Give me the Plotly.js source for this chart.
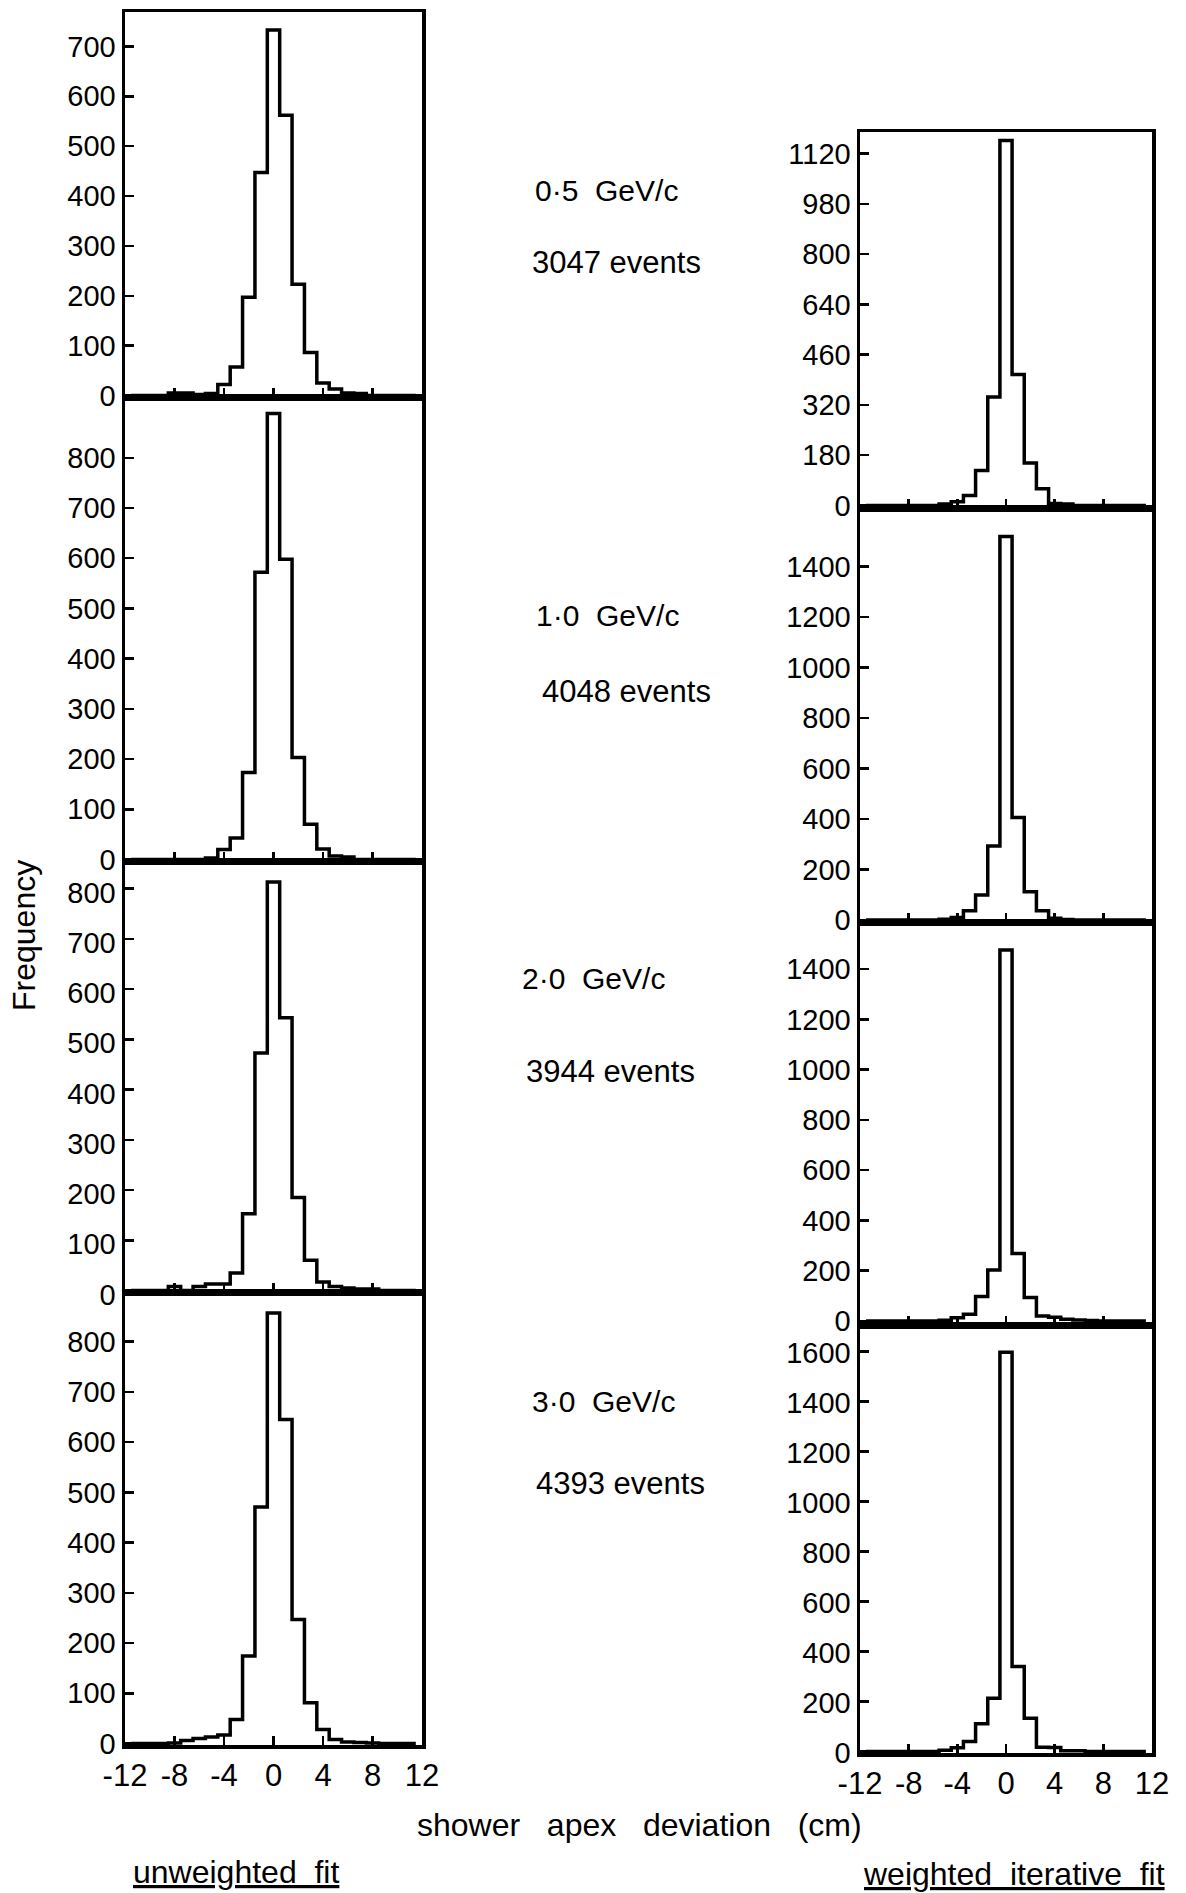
<!DOCTYPE html>
<html>
<head>
<meta charset="utf-8">
<script src="https://cdn.plot.ly/plotly-3.0.1.min.js"></script>
<style>html,body{margin:0;padding:0;background:#fff;}#chart{width:1186px;height:1893px;}</style>
</head>
<body>
<div id="chart"></div>
<script>
// ---- data ----
const binCenters = [-11,-10,-9,-8,-7,-6,-5,-4,-3,-2,-1,0,1,2,3,4,5,6,7,8,9,10,11];
const xTickVals = [-12,-8,-4,0,4,8,12];
const xTickLabels = ["-12","-8","-4","0","4","8","12"];

// unweighted fit (left column)
const unweighted05 = [0,0,0,5,5,2,4,22,57,197,447,733,562,223,86,25,13,5,4,0,0,0,0];
const unweighted10 = [0,0,0,0,0,0,3,20,43,173,572,888,598,203,70,21,7,5,0,0,0,0,0];
const unweighted20 = [0,0,0,8,0,8,13,13,35,153,473,813,543,185,60,17,8,5,3,3,0,0,0];
const unweighted30 = [0,0,0,1,6,10,13,17,48,174,471,857,645,247,81,28,8,3,2,1,0,0,0];

// weighted iterative fit (right column)
const weighted05 = [0,0,0,0,0,0,5,12,32,111,345,1162,417,135,53,6,5,0,0,0,0,0,0];
const weighted10 = [0,0,0,0,0,0,3,10,37,99,293,1519,406,112,37,7,2,0,0,0,0,0,0];
const weighted20 = [0,0,0,0,0,0,3,13,27,97,203,1477,269,93,20,15,7,4,2,0,0,0,0];
const weighted30 = [0,0,0,0,0,0,5,15,40,111,213,1597,340,133,17,16,3,3,0,0,0,0,0];

const momentumLabels = ["0·5  GeV/c","1·0  GeV/c","2·0  GeV/c","3·0  GeV/c"];
const eventLabels = ["3047 events","4048 events","3944 events","4393 events"];

const yTicksL1 = [0,100,200,300,400,500,600,700];
const yTicksL = [0,100,200,300,400,500,600,700,800];
const yTicksR1Vals = [0,160,320,480,640,800,960,1120];
const yTicksR1Text = ["0","180","320","460","640","800","980","1120"];
const yTicksR23 = [0,200,400,600,800,1000,1200,1400];
const yTicksR4 = [0,200,400,600,800,1000,1200,1400,1600];

// ---- layout helpers ----
const W = 1186, H = 1893;
const FONT = '"Liberation Sans", Arial, sans-serif';
function dxp(a,b){return [a/W, b/W];}
function dyp(top,bottom){return [1-bottom/H, 1-top/H];}
const NB = '\u00a0';
function sp(s){ return s.replace(/ /g, NB); }

function stepXY(counts){
  const x=[], y=[];
  binCenters.forEach((c,i)=>{ x.push(c-0.5); y.push(counts[i]); });
  x.push(binCenters[binCenters.length-1]+0.5);
  y.push(counts[counts.length-1]);
  return {x,y};
}

const panels = [
  {data: unweighted05, xd: [125,422], yd: [12,397],   yr: [-3,769],   tv: yTicksL1, tt: null, bottom:false, shift:0},
  {data: unweighted10, xd: [125,422], yd: [397,861],  yr: [-3,921],   tv: yTicksL,  tt: null, bottom:false, shift:0},
  {data: unweighted20, xd: [125,422], yd: [861,1292], yr: [-3,855],   tv: yTicksL,  tt: null, bottom:false, shift:4},
  {data: unweighted30, xd: [125,422], yd: [1292,1745],yr: [-3,899],   tv: yTicksL,  tt: null, bottom:true,  shift:0},
  {data: weighted05,   xd: [860,1152],yd: [132,508],  yr: [-8,1189],  tv: yTicksR1Vals, tt: yTicksR1Text, bottom:false, shift:0},
  {data: weighted10,   xd: [860,1152],yd: [508,922],  yr: [-8,1632],  tv: yTicksR23, tt: null, bottom:false, shift:0},
  {data: weighted20,   xd: [860,1152],yd: [922,1325], yr: [-16,1588], tv: yTicksR23, tt: null, bottom:false, shift:0},
  {data: weighted30,   xd: [860,1152],yd: [1325,1753],yr: [-6,1706],  tv: yTicksR4,  tt: null, bottom:true,  shift:1}
];

const traces = [];
const layout = {
  width: W, height: H,
  margin: {l:0,r:0,t:0,b:0},
  paper_bgcolor: '#ffffff', plot_bgcolor: '#ffffff',
  showlegend: false,
  font: {family: FONT, color: '#000', size: 30},
  annotations: []
};

panels.forEach((p,i)=>{
  const n = i+1;
  const xa = 'x' + (n===1?'':n), ya = 'y' + (n===1?'':n);
  const xk = 'xaxis' + (n===1?'':n), yk = 'yaxis' + (n===1?'':n);
  const s = stepXY(p.data);
  traces.push({type:'scatter', mode:'lines', x:s.x, y:s.y, xaxis:xa, yaxis:ya,
    line:{shape:'hv', color:'#000', width:3.5}, hoverinfo:'skip'});
  layout[xk] = {domain: dxp(p.xd[0],p.xd[1]), anchor: ya, range:[-12,12],
    tickvals: xTickVals, ticktext: xTickLabels, ticks:'inside', ticklen:9, tickwidth:2.5, tickcolor:'#000',
    showline:true, mirror:true, linewidth:3.5, linecolor:'#000', showgrid:false, zeroline:false,
    showticklabels: p.bottom, tickfont:{family:FONT, size:31, color:'#000'}, fixedrange:true};
  const ya_obj = {domain: dyp(p.yd[0],p.yd[1]), anchor: xa, range: p.yr,
    tickvals: p.tv, ticks:'inside', ticklen:9, tickwidth:2.5, tickcolor:'#000',
    showline:true, mirror:true, linewidth:3.5, linecolor:'#000', showgrid:false, zeroline:false,
    tickfont:{family:FONT, size:29, color:'#000'}, fixedrange:true};
  if (p.tt) ya_obj.ticktext = p.tt;
  if (p.shift) ya_obj.ticklabelshift = p.shift;
  layout[yk] = ya_obj;
});

function ann(text, xpx, ypx, size, extra){
  return Object.assign({text:text, xref:'paper', yref:'paper', x:xpx/W, y:1-ypx/H,
    xanchor:'center', yanchor:'middle', showarrow:false,
    font:{family:FONT, size:size, color:'#000'}}, extra||{});
}
const momPos = [[606,190],[607,615],[593,978],[604,1401]];
const evtPos = [[616,263],[626,691],[610,1071],[620,1483]];
momentumLabels.forEach((t,i)=>layout.annotations.push(ann(sp(t), momPos[i][0], momPos[i][1], 30)));
eventLabels.forEach((t,i)=>layout.annotations.push(ann(sp(t), evtPos[i][0], evtPos[i][1], 31)));
layout.annotations.push(ann('Frequency', 24, 936, 32, {textangle:-90}));
layout.annotations.push(ann(sp('shower   apex   deviation   (cm)'), 639, 1825, 32));
layout.annotations.push(ann('<u>' + sp('unweighted  fit') + '</u>', 236, 1872, 32));
layout.annotations.push(ann('<u>' + sp('weighted  iterative  fit') + '</u>', 1014, 1874, 32));

Plotly.newPlot('chart', traces, layout, {staticPlot:true, displayModeBar:false});
</script>
</body>
</html>
